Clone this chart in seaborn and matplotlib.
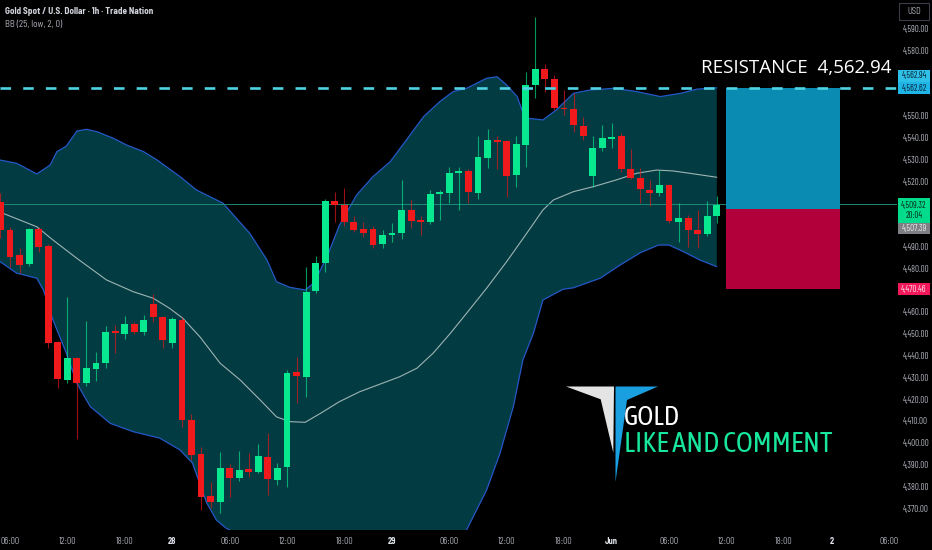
import numpy as np
import matplotlib
matplotlib.use("Agg")
import matplotlib.pyplot as plt
from matplotlib.patches import Rectangle, Polygon
from matplotlib.transforms import blended_transform_factory
import seaborn as sns

# 1h candles, index 0 = 27 May 05:00
opens = [4510.6, 4497.6, 4486.1, 4481.9, 4498.1, 4490.4, 4446.1, 4428.8, 4439.0, 4427.6,
         4433.9, 4436.5, 4451.3, 4449.9, 4454.5, 4450.7, 4463.7, 4457.6, 4445.9, 4456.3,
         4410.5, 4394.7, 4375.6, 4373.0, 4388.3, 4383.7, 4387.8, 4386.7, 4393.6, 4383.0,
         4388.8, 4432.5, 4430.3, 4469.8, 4482.3, 4511.0, 4509.1, 4501.4, 4498.1, 4498.1,
         4491.0, 4495.2, 4496.1, 4506.8, 4502.2, 4501.3, 4514.1, 4514.8, 4523.6, 4524.7,
         4514.8, 4530.8, 4538.9, 4538.4, 4522.8, 4536.6, 4564.1, 4571.3, 4566.7, 4553.6,
         4553.1, 4545.5, 4522.2, 4535.1, 4539.5, 4540.7, 4525.4, 4521.3, 4516.0, 4514.4,
         4518.4, 4501.4, 4503.0, 4497.6, 4495.8, 4504.2]
highs = [4514.6, 4499.1, 4489.2, 4498.5, 4499.0, 4491.0, 4446.5, 4467.0, 4439.5, 4455.9,
         4441.5, 4453.7, 4454.0, 4458.2, 4455.5, 4458.6, 4468.3, 4458.0, 4457.6, 4457.6,
         4413.2, 4398.2, 4382.2, 4395.6, 4390.3, 4396.4, 4395.2, 4399.4, 4404.3, 4390.6,
         4433.4, 4439.5, 4480.8, 4485.7, 4512.0, 4515.2, 4516.8, 4504.0, 4501.4, 4499.5,
         4497.6, 4501.0, 4520.6, 4511.4, 4504.0, 4516.0, 4516.0, 4526.7, 4526.5, 4525.5,
         4540.5, 4543.8, 4540.5, 4539.0, 4540.5, 4570.2, 4595.2, 4573.6, 4568.7, 4561.8,
         4560.3, 4549.3, 4540.7, 4545.8, 4546.6, 4542.0, 4534.6, 4525.9, 4520.6, 4525.1,
         4518.8, 4510.2, 4504.5, 4506.8, 4511.1, 4513.2]
lows = [4494.0, 4480.8, 4477.7, 4481.0, 4487.7, 4443.3, 4425.0, 4427.6, 4401.6, 4426.0,
        4428.3, 4434.4, 4441.3, 4447.5, 4449.8, 4449.5, 4455.6, 4443.6, 4443.6, 4407.4,
        4392.1, 4369.2, 4370.0, 4367.6, 4375.3, 4382.6, 4384.5, 4386.0, 4376.0, 4380.6,
        4379.9, 4418.1, 4421.1, 4468.5, 4478.5, 4501.4, 4499.5, 4496.5, 4494.6, 4489.5,
        4489.2, 4492.2, 4493.5, 4498.4, 4495.3, 4500.5, 4502.2, 4510.2, 4507.0, 4509.9,
        4512.0, 4525.9, 4525.5, 4512.9, 4517.2, 4526.7, 4558.0, 4561.1, 4552.5, 4550.4,
        4542.7, 4538.9, 4517.5, 4534.0, 4535.1, 4524.0, 4521.0, 4509.9, 4508.6, 4513.2,
        4500.7, 4492.2, 4489.7, 4489.5, 4495.0, 4500.7]
closes = [4497.6, 4485.4, 4481.6, 4497.9, 4490.0, 4445.6, 4429.1, 4439.0, 4427.6, 4434.4,
          4436.5, 4451.0, 4450.2, 4454.5, 4451.0, 4456.3, 4457.6, 4447.2, 4456.8, 4410.5,
          4394.4, 4375.3, 4373.0, 4388.3, 4383.7, 4387.5, 4386.7, 4393.9, 4383.2, 4388.3,
          4432.2, 4430.8, 4469.3, 4482.6, 4510.9, 4509.0, 4501.4, 4497.6, 4496.1, 4490.7,
          4495.3, 4496.4, 4506.8, 4501.9, 4501.3, 4514.1, 4514.9, 4523.9, 4524.6, 4514.9,
          4531.3, 4538.9, 4538.0, 4522.5, 4537.1, 4564.1, 4571.5, 4566.7, 4553.4, 4553.0,
          4545.8, 4540.7, 4535.1, 4539.7, 4540.4, 4525.4, 4521.3, 4516.3, 4514.4, 4518.4,
          4501.7, 4503.0, 4497.6, 4495.8, 4504.2, 4509.3]

# Bollinger bands (25, low, 2)
upper_idx = [-0.05, 1.7, 3.8, 5.2, 5.9, 6.9, 8.0, 9.0, 10.1, 11.8, 13.2, 15.0, 16.4, 18.8,
             20.5, 23.3, 26.1, 27.9, 28.9, 30.3, 31.9, 32.8, 34.2, 35.5, 37.3, 39.0, 40.8,
             42.5, 44.3, 46.0, 47.4, 48.8, 50.9, 52.0, 53.0, 54.1, 54.6, 55.1, 56.8, 58.2,
             60.0, 61.7, 64.2, 66.6, 69.1, 71.2, 72.9, 75.0]
upper_val = [4529.7, 4528.2, 4523.3, 4527.4, 4533.5, 4536.1, 4543.0, 4543.8, 4542.7, 4539.7,
             4536.6, 4533.5, 4529.7, 4522.1, 4516.0, 4509.9, 4496.1, 4483.9, 4473.9, 4471.3,
             4470.1, 4473.2, 4485.4, 4499.9, 4513.7, 4522.1, 4528.9, 4538.9, 4549.6, 4556.5,
             4561.1, 4562.6, 4567.2, 4567.9, 4564.1, 4558.8, 4552.7, 4548.9, 4548.1, 4552.7,
             4560.3, 4561.8, 4562.6, 4561.1, 4558.8, 4560.3, 4562.2, 4562.8]
lower_idx = [-0.05, 1.7, 3.8, 4.5, 5.5, 6.9, 8.0, 9.4, 11.5, 13.9, 16.7, 18.8, 20.1, 21.6,
             22.6, 23.6, 26.0, 30.0, 34.0, 38.0, 42.0, 46.0, 48.8, 50.9, 52.3, 53.7, 54.7,
             55.8, 56.8, 58.9, 60.0, 62.8, 64.9, 67.0, 68.9, 70.0, 71.5, 73.2, 75.0]
lower_val = [4483.1, 4477.8, 4475.5, 4470.1, 4456.3, 4441.1, 4427.3, 4416.6, 4408.9, 4405.1,
             4402.1, 4396.7, 4390.7, 4372.4, 4364.6, 4360.9, 4355.0, 4350.0, 4349.0, 4351.0,
             4352.0, 4355.0, 4360.0, 4378.3, 4395.2, 4416.6, 4438.0, 4450.2, 4465.5, 4470.4,
             4471.1, 4475.5, 4481.6, 4487.2, 4490.7, 4490.7, 4487.7, 4483.9, 4480.8]
basis_idx = [-0.05, 3.8, 5.5, 8.0, 11.1, 13.9, 16.0, 17.7, 19.1, 20.9, 23.0, 25.1, 27.2,
             28.9, 30.3, 31.9, 33.5, 35.5, 37.6, 41.8, 43.6, 45.3, 47.1, 48.8, 50.9, 53.0,
             55.1, 56.8, 57.9, 60.0, 62.1, 64.5, 66.6, 68.7, 70.4, 72.2, 75.0]
basis_val = [4505.8, 4499.1, 4493.0, 4484.6, 4474.7, 4469.3, 4466.3, 4461.7, 4457.1, 4448.5,
             4436.5, 4428.8, 4419.6, 4411.9, 4409.7, 4409.4, 4413.5, 4418.9, 4423.4, 4430.3,
             4434.2, 4441.1, 4450.2, 4459.4, 4470.9, 4483.1, 4496.1, 4506.8, 4511.4, 4515.2,
             4517.5, 4520.6, 4523.6, 4525.1, 4524.7, 4523.6, 4521.8]

resistance = 4562.94
entry = 4507.39
stop = 4470.46
last_price = 4509.32
bb_upper_last = 4562.62
countdown = "20:04"
position_span = [75.97, 87.9]

price_ticks = list(range(4370, 4600, 10))
hidden_ticks = [4570, 4560, 4510, 4500, 4470]  # covered by the price tags
time_idx = [1, 7, 13, 18, 24, 30, 36, 41, 47, 53, 59, 64, 70, 76, 82, 87, 93]
time_labels = ["06:00", "12:00", "18:00", "28", "06:00", "12:00", "18:00", "29", "06:00",
               "12:00", "18:00", "Jun", "06:00", "12:00", "18:00", "2", "06:00"]
day_labels = ["28", "29", "Jun", "2"]

GREEN = "#08e88f"
RED = "#f0191c"
BAND = "#033b42"
BAND_EDGE = "#2458c8"
BASIS = "#9db4b4"
CYAN = "#4fd3e4"
AXIS_TXT = "#b2b5be"
NARROW = ["Barlow Semi Condensed", "DejaVu Sans"]
SCALE_FONT = ["Barlow Condensed", "DejaVu Sans"]
LOGO_FONT = ["Asap Condensed", "DejaVu Sans"]

sns.set_style("dark", {"axes.facecolor": "black", "figure.facecolor": "black"})
plt.rcParams["font.family"] = NARROW

W, H = 932, 550
fig = plt.figure(figsize=(W / 100, H / 100), dpi=100, facecolor="black")
ax = fig.add_axes([0, 20 / H, 897 / W, 530 / H])
ax.set_facecolor("black")
ax.set_xlim(-0.05, 93.87)
ax.set_ylim(4360, 4603.1)
for s in ax.spines.values():
    s.set_visible(False)
ax.grid(False)

# bands
band_x = list(upper_idx) + list(lower_idx)[::-1]
band_y = list(upper_val) + list(lower_val)[::-1]
ax.fill(band_x, band_y, color=BAND, lw=0, zorder=1)
ax.plot(upper_idx, upper_val, color=BAND_EDGE, lw=0.9, zorder=2)
ax.plot(lower_idx, lower_val, color=BAND_EDGE, lw=0.9, zorder=2)
sns.lineplot(x=basis_idx, y=basis_val, ax=ax, color=BASIS, lw=0.8, zorder=2)

# last price line
ax.axhline(last_price, color="#1d8a76", lw=0.7, zorder=2)

# candles
idx = np.arange(len(opens))
o = np.array(opens)
c = np.array(closes)
cols = np.where(c >= o, GREEN, RED)
ax.vlines(idx, lows, highs, colors=cols, lw=0.8, alpha=0.65, zorder=3)
ax.bar(idx, np.maximum(np.abs(c - o), 0.7), bottom=np.minimum(o, c), width=0.72,
       color=cols, lw=0, zorder=4)

# long position box
ax.add_patch(Rectangle((position_span[0], entry), position_span[1] - position_span[0],
                       resistance - entry, color="#0a8cb2", lw=0, zorder=5))
ax.add_patch(Rectangle((position_span[0], stop), position_span[1] - position_span[0],
                       entry - stop, color="#b1003a", lw=0, zorder=5))

# resistance line and label
ax.axhline(resistance, color=CYAN, lw=1.9, linestyle=(0, (4.0, 4.6)), zorder=6)
ax.text(73.35, 4571.9, "RESISTANCE  4,562.94", color="white", fontsize=13.5,
        family=["Open Sans", "DejaVu Sans"], va="center", ha="left", zorder=7)

# axes ticks
ax.yaxis.tick_right()
ax.set_yticks(price_ticks)
ax.set_yticklabels(["" if p in hidden_ticks else f"{p:,.2f}" for p in price_ticks])
ax.set_xticks(time_idx)
ax.set_xticklabels(time_labels)
ax.tick_params(axis="both", length=0, colors=AXIS_TXT)
ax.tick_params(axis="y", pad=4.5, labelsize=6.4)
ax.tick_params(axis="x", pad=5, labelsize=6.2)
for lab in ax.get_yticklabels():
    lab.set_family(SCALE_FONT)
for lab in ax.get_xticklabels():
    if lab.get_text() in day_labels:
        lab.set_color("#e0e3eb")
        lab.set_fontweight("bold")
ax.set_xlabel("")
ax.set_ylabel("")

# price tags on the right scale
tr = blended_transform_factory(fig.transFigure, ax.transData)
px = 1 / 2.18  # price units per pixel
tags = [
    ("4,562.94", resistance + 12 * px, "#2ec0e6", "#0b2233", 12),
    ("4,562.62", bb_upper_last, "#1eb4e6", "#0b2233", 12),
    ("4,509.32\n" + countdown, last_price - 6 * px, "#00dc8c", "#06281a", 25),
    ("4,507.39", entry - 20 * px, "#7e7f84", "#e8e8e8", 11),
    ("4,470.46", stop, "#f2185a", "#fde6ec", 12),
]
for txt, y, bg, fg, hpx in tags:
    ax.add_patch(Rectangle((898 / W, y - hpx / 2 * px), 32 / W, hpx * px, transform=tr,
                           color=bg, lw=0, clip_on=False, zorder=8))
    ax.text(914 / W, y, txt, transform=tr, ha="center", va="center", fontsize=6.4,
            family=SCALE_FONT, color=fg, linespacing=1.2, clip_on=False, zorder=9)

# USD box
fig.patches.append(Rectangle((899 / W, 1 - 20 / H), 30 / W, 17 / H, transform=fig.transFigure,
                             facecolor="black", edgecolor="#3a3e48", lw=0.8))
fig.text(914 / W, 1 - 11.5 / H, "USD", color=AXIS_TXT, fontsize=6.2, ha="center", va="center")

# header
fig.text(5 / W, 1 - 12 / H, "Gold Spot / U.S. Dollar · 1h · Trade Nation", color="#d1d4dc",
         fontsize=6.6, ha="left", va="center", weight="bold")
fig.text(5 / W, 1 - 25 / H, "BB (25, low, 2, 0)", color=AXIS_TXT, fontsize=6.6,
         ha="left", va="center")

# logo
def fpx(pts):
    return [(x / W, 1 - y / H) for x, y in pts]

fig.patches.append(Polygon(fpx([(566, 386.5), (614, 386.5), (613.3, 452.7), (600.7, 399.3)]),
                           closed=True, transform=fig.transFigure, color="#e4e4e4", lw=0))
fig.patches.append(Polygon(fpx([(615.5, 386.5), (658, 386.5), (627, 400), (615.5, 482)]),
                           closed=True, transform=fig.transFigure, color="#1a9fe0", lw=0))
fig.text(624 / W, 1 - 425 / H, "GOLD", color="white", fontsize=19.5,
         family=LOGO_FONT, ha="left", va="baseline")
fig.text(624 / W, 1 - 451.5 / H, "LIKE AND COMMENT", color="#17e69c", fontsize=20.5,
         family=LOGO_FONT, ha="left", va="baseline")

fig.savefig("out.png", dpi=100, facecolor="black")
